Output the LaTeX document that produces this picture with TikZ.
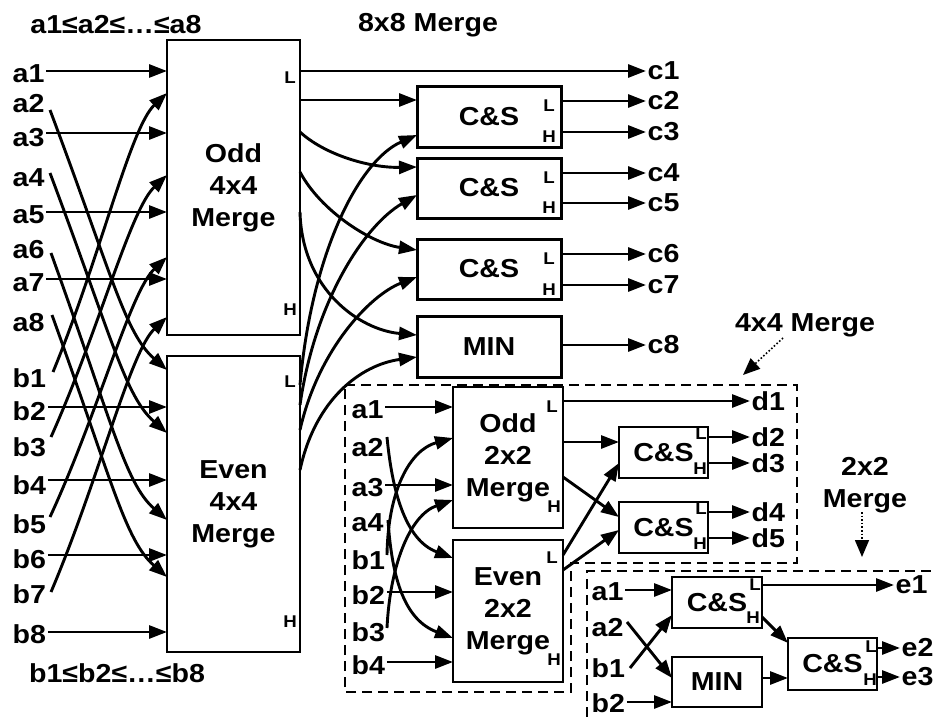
\documentclass[tikz,border=0pt]{standalone}
\usepackage{fontspec}
\setmainfont{Liberation Sans}[FakeStretch=1.1]
\usetikzlibrary{arrows.meta}
\newcommand\fLab{\fontsize{26}{32}\selectfont\bfseries}
\newcommand\fTag{\fontsize{17}{18}\selectfont\bfseries}
\begin{document}
\begin{tikzpicture}[x=1pt,y=1pt,
 lab/.style={font=\fLab, inner sep=1.5pt},
 tag/.style={font=\fTag, inner sep=0pt},
 wire/.style={line width=2.9pt, -{Triangle[length=18pt,width=13pt]}},
 bigbox/.style={draw, line width=1.8pt, font=\fLab, align=center, inner sep=0pt, outer sep=0pt},
 csbox/.style={draw, line width=3pt, font=\fLab, inner sep=0pt, outer sep=0pt},
 midbox/.style={draw, line width=2pt, font=\fLab, align=center, inner sep=0pt, outer sep=0pt},
 dashbox/.style={line width=1.6pt, dash pattern=on 10pt off 6pt},
 pointer/.style={line width=1.6pt, dotted, -{Triangle[length=17pt,width=14pt]}}]
\useasboundingbox (0,0) rectangle (935,-717);

% ---------- titles ----------
\node[lab] (ta) at (116,-25) {a1≤a2≤…≤a8};
\node[lab] (tb) at (117,-673) {b1≤b2≤…≤b8};
\node[lab] (t88) at (428,-25) {8x8 Merge};

% ---------- 4x4 merge boxes ----------
\node[bigbox, minimum width=133pt, minimum height=295pt] (odd4) at (233.5,-187.5) {Odd\\4x4\\Merge};
\node[bigbox, minimum width=133pt, minimum height=296pt] (even4) at (233.5,-504) {Even\\4x4\\Merge};
\node[tag] (o4L) at (290,-78) {L};
\node[tag] (o4H) at (290,-310) {H};
\node[tag] (e4L) at (290,-382) {L};
\node[tag] (e4H) at (290,-622) {H};

% ---------- left labels ----------
\foreach \n/\y in {a1/74,a2/104,a3/138,a4/178,a5/215,a6/250,a7/283,a8/323,
                   b1/378,b2/411,b3/447,b4/485,b5/524,b6/559,b7/594,b8/634}
  \node[lab, anchor=west] (l\n) at (11,-\y) {\n};

% ports
\foreach \i/\y in {1/71,2/93,3/133,4/175,5/212,6/257,7/279,8/317}
  \coordinate (oi\i) at (167,-\y);
\foreach \i/\y in {1/370,2/407,3/433,4/480,5/520,6/555,7/577,8/632}
  \coordinate (ei\i) at (167,-\y);
\coordinate (sa2) at (50,-110);
\coordinate (sa4) at (50,-173);
\coordinate (sa6) at (51,-253);
\coordinate (sa8) at (52,-315);
\coordinate (sb1) at (53,-372);
\coordinate (sb3) at (51,-437);
\coordinate (sb5) at (50,-517);
\coordinate (sb7) at (51,-592);

% straight inputs
\draw[wire] (la1.east |- oi1) -- (oi1);
\draw[wire] (la3.east |- oi3) -- (oi3);
\draw[wire] (la5.east |- oi5) -- (oi5);
\draw[wire] (la7.east |- oi7) -- (oi7);
\draw[wire] (lb2.east |- ei2) -- (ei2);
\draw[wire] (lb4.east |- ei4) -- (ei4);
\draw[wire] (lb6.east |- ei6) -- (ei6);
\draw[wire] (lb8.east |- ei8) -- (ei8);

% crossing inputs (a-even downwards)
\draw[wire] (sa2) .. controls (112,-275) and (125,-333) .. (ei1);
\draw[wire] (sa4) .. controls (112,-338) and (125,-396) .. (ei3);
\draw[wire] (sa6) .. controls (112,-422) and (125,-483) .. (ei5);
\draw[wire] (sa8) .. controls (112,-481) and (125,-540) .. (ei7);
% crossing inputs (b-odd upwards)
\draw[wire] (sb1) .. controls (100,-258) and (130,-128) .. (oi2);
\draw[wire] (sb3) .. controls (99,-330) and (130,-210) .. (oi4);
\draw[wire] (sb5) .. controls (99,-411) and (130,-292) .. (oi6);
\draw[wire] (sb7) .. controls (99,-479) and (130,-352) .. (oi8);

% ---------- C&S / MIN column ----------
\node[csbox, minimum width=144pt, minimum height=60pt] (cs1) at (489,-117) {C\&S};
\node[csbox, minimum width=144pt, minimum height=60pt] (cs2) at (489,-188) {C\&S};
\node[csbox, minimum width=144pt, minimum height=60pt] (cs3) at (489,-269) {C\&S};
\node[csbox, minimum width=144pt, minimum height=61pt] (mn) at (489,-346.5) {MIN};
\node[tag] (cs1L) at (549,-106) {L};
\node[tag] (cs1H) at (549,-137) {H};
\node[tag] (cs2L) at (549,-178) {L};
\node[tag] (cs2H) at (549,-208) {H};
\node[tag] (cs3L) at (549,-259) {L};
\node[tag] (cs3H) at (549,-290) {H};

\foreach \n/\y in {c1/71,c2/101,c3/132,c4/173,c5/203,c6/254,c7/285,c8/345}
  \node[lab, anchor=west] (\n) at (646,-\y) {\n};

\coordinate (oo1) at (300,-71);
\coordinate (oo2) at (300,-100);
\coordinate (oo3) at (300,-132);
\coordinate (oo4) at (300,-172);
\coordinate (oo5) at (300,-212);
\coordinate (eo1) at (300,-385);
\coordinate (eo2) at (300,-405);
\coordinate (eo3) at (300,-430);
\coordinate (eo4) at (300,-470);
\coordinate (cs1a) at (417,-100);
\coordinate (cs1b) at (417,-135);
\coordinate (cs2a) at (417,-167);
\coordinate (cs2b) at (417,-195);
\coordinate (cs3a) at (417,-250);
\coordinate (cs3b) at (417,-277);
\coordinate (mna) at (417,-335);
\coordinate (mnb) at (417,-357);

\draw[wire] (oo1) -- (c1.west);
\draw[wire] (oo2) -- (cs1a);
\draw[wire] (oo3) .. controls (325,-155) and (370,-168) .. (cs2a);
\draw[wire] (oo4) .. controls (320,-210) and (370,-243) .. (cs3a);
\draw[wire] (oo5) .. controls (302,-290) and (360,-330) .. (mna);
\draw[wire] (eo1) .. controls (312,-250) and (360,-160) .. (cs1b);
\draw[wire] (eo2) .. controls (315,-300) and (365,-225) .. (cs2b);
\draw[wire] (eo3) .. controls (318,-350) and (370,-295) .. (cs3b);
\draw[wire] (eo4) .. controls (315,-400) and (360,-365) .. (mnb);

\draw[wire] (cs1.east |- c2.west) -- (c2.west);
\draw[wire] (cs1.east |- c3.west) -- (c3.west);
\draw[wire] (cs2.east |- c4.west) -- (c4.west);
\draw[wire] (cs2.east |- c5.west) -- (c5.west);
\draw[wire] (cs3.east |- c6.west) -- (c6.west);
\draw[wire] (cs3.east |- c7.west) -- (c7.west);
\draw[wire] (mn.east |- c8.west) -- (c8.west);

% ---------- 4x4 merge detail ----------
\draw[dashbox] (345,-385) -- (797,-385) -- (797,-563) -- (571,-563) -- (571,-692) -- (345,-692) -- cycle;
\node[lab] (m44) at (805,-325) {4x4 Merge};
\coordinate (m44p) at (743,-375);
\draw[pointer] (783,-338) -- (m44p);

\node[midbox, minimum width=110pt, minimum height=141pt] (odd2) at (508,-457.5) {Odd\\2x2\\Merge};
\node[midbox, minimum width=110pt, minimum height=142pt] (even2) at (508,-611) {Even\\2x2\\Merge};
\node[tag] (o2L) at (552,-407) {L};
\node[tag] (o2H) at (554,-507) {H};
\node[tag] (e2L) at (552,-558) {L};
\node[tag] (e2H) at (554,-660) {H};

\foreach \n/\y in {a1/410,a2/448,a3/488,a4/523,b1/560,b2/595,b3/632,b4/665}
  \node[lab, anchor=west] (q\n) at (350,-\y) {\n};

\foreach \i/\y in {1/407,2/438,3/485,4/500}
  \coordinate (pi\i) at (453,-\y);
\foreach \i/\y in {1/558,2/592,3/638,4/662}
  \coordinate (qi\i) at (453,-\y);
\coordinate (qsa2) at (387,-437);
\coordinate (qsa4) at (388,-520);
\coordinate (qsb1) at (387,-555);
\coordinate (qsb3) at (387,-628);

\draw[wire] (qa1.east |- pi1) -- (pi1);
\draw[wire] (qa3.east |- pi3) -- (pi3);
\draw[wire] (qb2.east |- qi2) -- (qi2);
\draw[wire] (qb4.east |- qi4) -- (qi4);
\draw[wire] (qsa2) .. controls (392,-490) and (405,-540) .. (qi1);
\draw[wire] (qsa4) .. controls (392,-580) and (405,-620) .. (qi3);
\draw[wire] (qsb1) .. controls (388,-490) and (410,-450) .. (pi2);
\draw[wire] (qsb3) .. controls (390,-565) and (410,-515) .. (pi4);

\node[csbox, line width=2.5pt, minimum width=89pt, minimum height=51pt] (csa) at (663.5,-452.5) {C\&S\hspace{6pt}};
\node[csbox, line width=2.5pt, minimum width=89pt, minimum height=51pt] (csb) at (663.5,-527.5) {C\&S\hspace{6pt}};
\node[tag] (csaL) at (701,-434) {L};
\node[tag] (csaH) at (700,-469) {H};
\node[tag] (csbL) at (701,-509) {L};
\node[tag] (csbH) at (700,-544) {H};

\foreach \n/\y in {d1/401,d2/437,d3/463,d4/512,d5/538}
  \node[lab, anchor=west] (\n) at (750,-\y) {\n};

\coordinate (po1) at (563,-401);
\coordinate (po2) at (563,-442);
\coordinate (po3) at (563,-477);
\coordinate (qo1) at (563,-555);
\coordinate (qo2) at (563,-570);
\coordinate (csai1) at (619,-442);
\coordinate (csai2) at (619,-463);
\coordinate (csbi1) at (619,-517);
\coordinate (csbi2) at (619,-530);

\draw[wire] (po1) -- (d1.west);
\draw[wire] (po2) -- (csai1);
\draw[wire] (po3) -- (csbi1);
\draw[wire] (qo1) -- (csai2);
\draw[wire] (qo2) -- (csbi2);
\draw[wire] (csa.east |- d2.west) -- (d2.west);
\draw[wire] (csa.east |- d3.west) -- (d3.west);
\draw[wire] (csb.east |- d4.west) -- (d4.west);
\draw[wire] (csb.east |- d5.west) -- (d5.west);

% ---------- 2x2 merge detail ----------
\node[lab, align=center] (m22) at (865,-485) {2x2\\Merge};
\coordinate (m22p) at (862,-557);
\draw[pointer] (862,-512) -- (m22p);
\draw[dashbox] (587,-717) -- (587,-571) -- (935,-571);

\foreach \n/\y in {a1/592,a2/628,b1/668,b2/703}
  \node[lab, anchor=west] (r\n) at (590,-\y) {\n};

\node[csbox, line width=2.5pt, minimum width=90pt, minimum height=51pt] (csT) at (717,-602.5) {C\&S\hspace{6pt}};
\node[csbox, line width=2.5pt, minimum width=90pt, minimum height=50pt] (minR) at (717,-682) {MIN};
\node[csbox, line width=2.5pt, minimum width=89pt, minimum height=52pt] (csR) at (832.5,-664) {C\&S\hspace{6pt}};
\node[tag] (csTL) at (755,-585) {L};
\node[tag] (csTH) at (753,-618) {H};
\node[tag] (csRL) at (871,-647) {L};
\node[tag] (csRH) at (870,-680) {H};

\node[lab, anchor=west] (e1) at (894,-585) {e1};
\node[lab, anchor=west] (e2) at (900,-648) {e2};
\node[lab, anchor=west] (e3) at (900,-677) {e3};

\coordinate (csTi1) at (672,-590);
\coordinate (csTi2) at (672,-615);
\coordinate (minRi1) at (672,-678);
\coordinate (minRi2) at (672,-702);
\coordinate (ra2s) at (627,-622);
\coordinate (rb1s) at (630,-668);
\coordinate (csTo2) at (762,-617);
\coordinate (csRi1) at (788,-643);
\coordinate (minRo) at (762,-678);
\coordinate (csRi2) at (788,-678);

\draw[wire] (ra1.east |- csTi1) -- (csTi1);
\draw[wire] (ra2s) -- (minRi1);
\draw[wire] (rb1s) -- (csTi2);
\draw[wire] (rb2.east |- minRi2) -- (minRi2);
\draw[wire] (csT.east |- e1.west) -- (e1.west);
\draw[wire] (csTo2) -- (csRi1);
\draw[wire] (minRo) -- (csRi2);
\draw[wire] (csR.east |- e2.west) -- (e2.west);
\draw[wire] (csR.east |- e3.west) -- (e3.west);
\end{tikzpicture}
\end{document}
